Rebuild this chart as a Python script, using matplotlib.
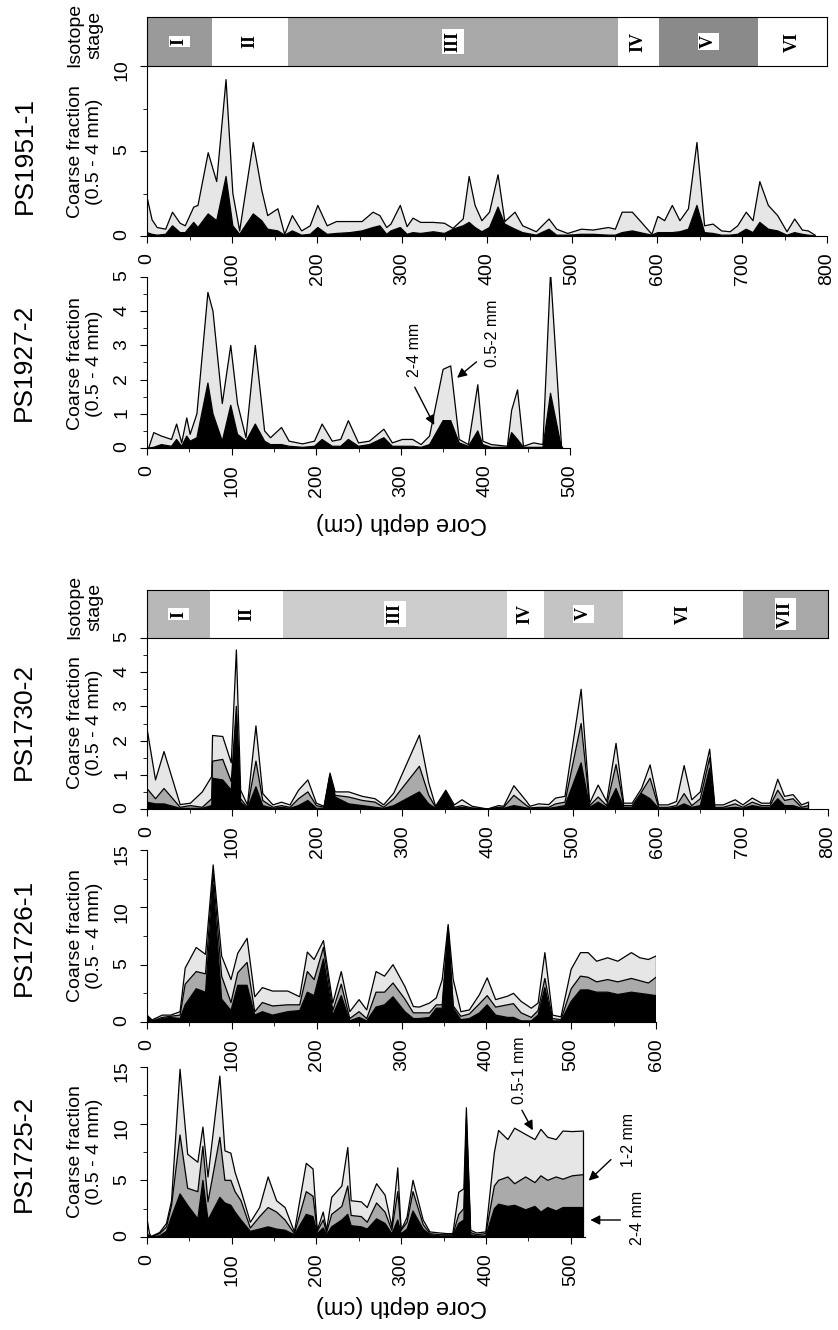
import numpy as np
import matplotlib
matplotlib.use('Agg')
import matplotlib.pyplot as plt
from matplotlib.ticker import MultipleLocator

plt.rcParams['font.family'] = ['Liberation Sans', 'DejaVu Sans']

# ---- PS1951-1 (two fractions: 2-4 mm, total 0.5-4 mm) ----
ps1951_depth = [0, 6, 12, 22, 30, 39, 45, 55, 60, 72, 82, 93, 101, 109, 125, 135, 142, 154, 162, 171,
                182, 192, 201, 212, 223, 239, 253, 266, 274, 282, 287, 298, 306, 313, 322, 337, 350, 360, 372, 379,
                386, 394, 403, 413, 421, 433, 442, 458, 473, 482, 495, 511, 525, 543, 551, 559, 571, 580, 594, 601,
                609, 618, 627, 637, 647, 656, 666, 676, 686, 695, 705, 713, 721, 731, 742, 753, 762, 771, 778, 786]
ps1951_total = [2.3, 0.95, 0.5, 0.4, 1.4, 0.75, 0.6, 1.7, 1.8, 4.9, 3.2, 9.2, 2.5, 0.3, 5.5, 2.7, 1.2, 1.6, 0.1, 1.2,
                0.3, 0.6, 1.8, 0.6, 0.85, 0.85, 0.85, 1.4, 1.2, 0.5, 0.7, 1.8, 0.55, 1.05, 0.8, 0.8, 0.75, 0.45, 1.0, 3.5,
                1.8, 0.9, 1.4, 3.6, 0.85, 1.4, 0.6, 0.25, 1.0, 0.4, 0.15, 0.4, 0.35, 0.5, 0.4, 1.4, 1.4, 0.9, 0.1, 1.15,
                0.9, 1.8, 0.9, 1.6, 5.5, 0.6, 0.7, 0.3, 0.25, 0.6, 1.4, 0.9, 3.2, 1.8, 1.2, 0.25, 1.0, 0.35, 0.3, 0.05]
ps1951_24 = [0.2, 0.1, 0.05, 0.1, 0.6, 0.2, 0.2, 0.8, 0.5, 1.3, 0.9, 3.5, 0.6, 0.1, 1.3, 0.9, 0.4, 0.3, 0.05, 0.3,
             0.05, 0.1, 0.5, 0.1, 0.15, 0.2, 0.3, 0.5, 0.6, 0.1, 0.3, 0.5, 0.1, 0.2, 0.15, 0.25, 0.15, 0.4, 0.6, 0.8,
             0.5, 0.25, 0.5, 1.7, 0.7, 0.4, 0.2, 0.05, 0.4, 0.05, 0.05, 0.1, 0.1, 0.05, 0.05, 0.2, 0.3, 0.2, 0.05, 0.2,
             0.2, 0.2, 0.25, 0.4, 1.8, 0.2, 0.15, 0.05, 0.05, 0.1, 0.4, 0.2, 0.8, 0.4, 0.3, 0.05, 0.2, 0.1, 0.05, 0.0]
ps1951_stage_bounds = [0, 76, 166, 554, 602, 719, 800]
ps1951_stage_names = ['I', 'II', 'III', 'IV', 'V', 'VI']

# ---- PS1927-2 ----
ps1927_depth = [2, 8, 17, 29, 35, 41, 47, 51, 59, 72, 78, 89, 99, 107, 117, 128, 139, 146, 159, 168,
                184, 198, 207, 219, 229, 238, 250, 263, 280, 290, 302, 314, 324, 334, 350, 359, 369, 380, 391, 397,
                407, 426, 431, 438, 445, 457, 468, 477, 490]
ps1927_total = [0.0, 0.45, 0.35, 0.25, 0.7, 0.15, 0.88, 0.4, 1.0, 4.55, 4.0, 1.3, 3.0, 1.3, 0.3, 3.0, 0.5, 0.3, 0.6, 0.2,
                0.12, 0.2, 0.7, 0.2, 0.25, 0.8, 0.15, 0.2, 0.55, 0.15, 0.25, 0.25, 0.1, 0.35, 2.3, 2.4, 0.25, 0.1, 1.85, 0.2,
                0.1, 0.05, 1.1, 1.7, 0.05, 0.15, 0.1, 5.15, 0.05]
ps1927_24 = [0.0, 0.02, 0.1, 0.05, 0.25, 0.05, 0.35, 0.2, 0.3, 1.9, 1.0, 0.2, 1.25, 0.4, 0.2, 0.7, 0.2, 0.1, 0.1, 0.05,
             0.02, 0.05, 0.25, 0.05, 0.05, 0.25, 0.05, 0.1, 0.3, 0.05, 0.05, 0.05, 0.02, 0.1, 0.8, 0.8, 0.15, 0.05, 0.5, 0.1,
             0.02, 0.02, 0.45, 0.25, 0.02, 0.02, 0.02, 1.6, 0.0]

# ---- PS1730-2 (three fractions, cumulative) ----
ps1730_depth = [0, 10, 20, 39, 51, 65, 76, 77, 89, 99, 105, 110, 118, 128, 136, 148, 158, 168, 178, 189,
                199, 208, 215, 221, 237, 253, 268, 278, 290, 320, 331, 339, 351, 361, 370, 382, 400, 413, 419, 431,
                446, 450, 460, 472, 480, 491, 510, 520, 530, 540, 551, 560, 570, 581, 591, 601, 612, 622, 631, 640,
                650, 661, 667, 677, 691, 700, 711, 722, 732, 741, 749, 759, 769, 777]
ps1730_total = [2.36, 0.85, 1.68, 0.13, 0.17, 0.5, 0.95, 2.15, 2.12, 1.35, 4.65, 0.55, 0.12, 2.43, 0.45, 0.12, 0.2, 0.12, 0.55, 0.85,
                0.17, 0.08, 1.05, 0.5, 0.5, 0.37, 0.3, 0.12, 0.47, 2.16, 0.76, 0.08, 0.55, 0.12, 0.27, 0.08, 0.0, 0.1, 0.08, 0.68,
                0.22, 0.08, 0.15, 0.13, 0.32, 0.37, 3.5, 0.17, 0.7, 0.22, 1.92, 0.17, 0.17, 0.6, 1.29, 0.12, 0.12, 0.22, 1.27, 0.27,
                0.5, 1.75, 0.12, 0.12, 0.27, 0.12, 0.32, 0.17, 0.17, 0.87, 0.37, 0.42, 0.12, 0.2]
ps1730_14 = [0.6, 0.3, 0.6, 0.05, 0.1, 0.05, 0.3, 1.4, 1.45, 0.8, 3.0, 0.3, 0.05, 1.4, 0.25, 0.05, 0.1, 0.05, 0.3, 0.5,
             0.1, 0.05, 1.0, 0.4, 0.35, 0.25, 0.2, 0.05, 0.3, 1.25, 0.4, 0.05, 0.5, 0.05, 0.1, 0.03, 0.0, 0.05, 0.05, 0.4,
             0.1, 0.03, 0.05, 0.05, 0.15, 0.2, 2.5, 0.1, 0.35, 0.1, 1.3, 0.1, 0.1, 0.5, 0.9, 0.05, 0.05, 0.1, 0.45, 0.1,
             0.3, 1.5, 0.05, 0.05, 0.15, 0.05, 0.2, 0.1, 0.1, 0.55, 0.25, 0.3, 0.05, 0.1]
ps1730_24 = [0.2, 0.15, 0.15, 0.02, 0.02, 0.02, 0.1, 0.9, 0.85, 0.55, 2.8, 0.2, 0.02, 0.65, 0.1, 0.02, 0.05, 0.02, 0.1, 0.25,
             0.02, 0.02, 0.95, 0.35, 0.15, 0.1, 0.05, 0.02, 0.1, 0.5, 0.15, 0.02, 0.5, 0.02, 0.05, 0.02, 0.0, 0.02, 0.02, 0.1,
             0.03, 0.02, 0.02, 0.02, 0.05, 0.1, 1.35, 0.05, 0.2, 0.05, 0.6, 0.05, 0.05, 0.45, 0.3, 0.02, 0.02, 0.05, 0.15, 0.05,
             0.1, 1.2, 0.02, 0.02, 0.05, 0.02, 0.1, 0.05, 0.05, 0.3, 0.1, 0.1, 0.02, 0.02]
ps1730_stage_bounds = [0, 74, 160, 423, 466, 559, 700, 800]
ps1730_stage_names = ['I', 'II', 'III', 'IV', 'V', 'VI', 'VII']

# ---- PS1726-1 ----
ps1726_depth = [0, 6, 18, 28, 39, 45, 58, 69, 78, 88, 99, 107, 118, 127, 136, 148, 166, 180, 189, 197,
                208, 219, 229, 239, 250, 259, 270, 280, 290, 304, 314, 321, 333, 341, 348, 355, 361, 370, 380, 392,
                401, 411, 425, 432, 441, 453, 461, 469, 478, 488, 500, 511, 520, 530, 543, 555, 571, 581, 591, 600]
ps1726_total = [0.6, 0.18, 0.6, 0.6, 0.9, 4.7, 6.5, 5.9, 13.7, 5.75, 3.7, 6.0, 7.3, 2.2, 3.0, 2.7, 2.7, 2.2, 6.1, 5.45,
                7.1, 1.65, 4.4, 0.9, 1.95, 1.05, 4.4, 4.0, 5.0, 3.1, 1.35, 1.3, 1.65, 2.1, 3.7, 8.5, 3.7, 0.9, 1.05, 2.4,
                3.85, 1.95, 2.25, 2.5, 1.8, 1.2, 1.65, 6.05, 0.6, 0.45, 4.6, 6.05, 6.05, 5.3, 5.6, 5.3, 6.05, 5.6, 5.45, 5.75]
ps1726_14 = [0.5, 0.1, 0.4, 0.5, 0.6, 3.3, 4.4, 4.2, 13.0, 4.0, 1.7, 4.3, 5.2, 0.9, 1.7, 1.4, 1.5, 1.5, 4.4, 3.7,
             6.5, 1.0, 3.3, 0.3, 0.9, 0.3, 2.6, 2.6, 3.4, 2.0, 0.8, 0.8, 0.8, 1.5, 1.5, 8.3, 1.4, 0.5, 0.7, 1.6,
             2.3, 1.3, 1.5, 1.6, 0.8, 0.4, 1.0, 3.8, 0.3, 0.2, 2.9, 4.0, 3.9, 3.5, 3.7, 3.5, 3.8, 3.6, 3.4, 3.9]
ps1726_24 = [0.4, 0.05, 0.3, 0.4, 0.3, 1.5, 2.9, 2.6, 12.0, 2.0, 1.0, 3.2, 3.2, 0.6, 0.9, 0.6, 0.9, 1.0, 2.6, 2.3,
             5.5, 0.6, 2.3, 0.1, 0.4, 0.1, 1.3, 1.5, 2.2, 0.9, 0.3, 0.3, 0.4, 1.2, 1.2, 8.0, 1.2, 0.2, 0.3, 0.8,
             1.5, 0.6, 0.4, 0.4, 0.1, 0.1, 0.6, 3.0, 0.1, 0.1, 1.8, 2.8, 2.8, 2.6, 2.6, 2.4, 2.6, 2.5, 2.4, 2.3]

# ---- PS1725-2 ----
ps1725_depth = [0, 3, 5, 15, 23, 29, 39, 48, 60, 66, 72, 86, 92, 99, 104, 111, 122, 133, 143, 153,
                163, 174, 188, 196, 201, 208, 212, 218, 230, 237, 241, 253, 260, 271, 281, 289, 296, 300, 307, 314,
                326, 334, 346, 354, 361, 368, 374, 377, 382, 389, 400, 410, 415, 426, 434, 447, 458, 465, 473, 483,
                491, 502, 515]
ps1725_total = [1.6, 0.3, 0.05, 0.4, 1.2, 3.2, 14.8, 7.3, 6.6, 9.7, 5.3, 14.2, 7.6, 7.4, 5.7, 4.1, 1.3, 2.6, 5.3, 3.2,
                2.6, 0.45, 6.5, 6.0, 0.6, 2.2, 0.6, 3.5, 4.5, 7.9, 3.2, 3.1, 2.6, 4.7, 3.7, 0.9, 6.1, 0.6, 1.75, 5.0,
                1.5, 0.45, 0.35, 0.3, 0.3, 3.95, 4.25, 11.4, 0.6, 0.35, 0.45, 7.45, 9.4, 8.6, 9.6, 9.05, 8.6, 9.5, 8.8, 8.6,
                9.35, 9.3, 9.35]
ps1725_14 = [0.3, 0.1, 0.03, 0.3, 0.9, 2.8, 9.0, 4.3, 4.0, 8.0, 3.1, 8.8, 5.0, 5.0, 4.0, 3.2, 0.8, 1.8, 2.6, 2.2,
             1.5, 0.3, 4.0, 3.6, 0.5, 1.5, 0.4, 2.0, 2.7, 4.5, 1.9, 1.8, 1.3, 3.0, 2.2, 0.6, 4.0, 0.6, 1.3, 4.0,
             1.1, 0.3, 0.2, 0.2, 0.2, 2.0, 2.5, 10.5, 0.4, 0.2, 0.3, 4.5, 5.0, 5.3, 4.7, 5.3, 4.8, 5.4, 5.0, 5.3,
             5.1, 5.4, 5.5]
ps1725_24 = [0.2, 0.05, 0.02, 0.1, 0.5, 1.8, 3.8, 2.8, 1.6, 5.0, 1.5, 3.5, 3.0, 2.8, 2.2, 1.5, 0.5, 0.7, 0.9, 0.7,
             0.6, 0.2, 2.0, 1.8, 0.3, 0.8, 0.2, 0.9, 1.5, 2.0, 1.0, 0.9, 0.7, 1.6, 1.2, 0.3, 1.5, 0.3, 0.7, 2.3,
             0.7, 0.2, 0.1, 0.1, 0.1, 1.2, 1.5, 9.5, 0.2, 0.1, 0.1, 2.5, 2.9, 2.7, 2.8, 2.4, 2.7, 2.2, 2.6, 2.3,
             2.6, 2.6, 2.6]

W, H = 838, 1330
fig = plt.figure(figsize=(W/100, H/100), dpi=100)
COARSE = 'Coarse fraction\n(0.5 - 4 mm)'
LIGHT, MID = '#e6e6e6', '#aaaaaa'


def box(x0, y0, x1, y1):
    # pixel box (left, top, right, bottom) -> figure fraction rect
    return [x0/W, 1-y1/H, (x1-x0)/W, (y1-y0)/H]


def ftext(x, y, s, **kw):
    fig.text(x/W, 1-y/H, s, ha='center', va='center', **kw)


def panel(rect, depth, layers, colours, xmax, ymax, ymaj, ymin):
    ax = fig.add_axes(rect)
    ax.patch.set_visible(False)  # tick labels of the panel above show through
    base = np.zeros(len(depth))
    for vals, c in zip(layers, colours):
        ax.fill_between(depth, base, vals, facecolor=c, lw=0)
        base = np.asarray(vals)
    for vals in layers:
        ax.plot(depth, vals, color='k', lw=0.9)
    ax.vlines(depth[-1], 0, layers[-1][-1], color='k', lw=0.9)
    ax.set_xlim(0, xmax); ax.set_ylim(0, ymax)
    for s in ('top', 'right'):
        ax.spines[s].set_visible(False)
    ax.xaxis.set_major_locator(MultipleLocator(100)); ax.xaxis.set_minor_locator(MultipleLocator(50))
    ax.yaxis.set_major_locator(MultipleLocator(ymaj)); ax.yaxis.set_minor_locator(MultipleLocator(ymin))
    ax.tick_params(which='both', direction='out', labelsize=14, pad=7, labelrotation=90)
    ax.tick_params(which='major', length=5); ax.tick_params(which='minor', length=3)
    return ax


def stages(rect, bounds, names, colours):
    ax = fig.add_axes(rect)
    for a, b, n, c in zip(bounds[:-1], bounds[1:], names, colours):
        ax.axvspan(a, b, color=c, lw=0)
        ax.text((a+b)/2, 0.5, n, rotation=90, ha='center', va='center', family='Liberation Serif',
                weight='bold', fontsize=13, bbox=dict(fc='white', ec='none', pad=1.5))
    ax.set_xlim(bounds[0], bounds[-1]); ax.set_ylim(0, 1)
    ax.set_xticks([]); ax.set_yticks([])


# top group
stages(box(147, 17, 827, 66), ps1951_stage_bounds, ps1951_stage_names,
       ['#9a9a9a', 'white', '#a8a8a8', 'white', '#8a8a8a', 'white'])
panel(box(147, 66, 827, 236), ps1951_depth, [ps1951_24, ps1951_total], ['k', LIGHT], 800, 10, 5, 2.5)
ax = panel(box(147, 277, 570, 448), ps1927_depth, [ps1927_24, ps1927_total], ['k', LIGHT], 500, 5, 1, 0.5)
arr = dict(arrowstyle='-|>', color='k', lw=1, mutation_scale=14)
ax.annotate('', xy=(341, 0.6), xytext=(315, 1.85), arrowprops=arr)
ax.text(316, 2.87, '2-4 mm', rotation=90, ha='center', va='center', fontsize=11.5)
ax.annotate('', xy=(364, 2.0), xytext=(392, 2.57), arrowprops=arr)
ax.text(408, 3.36, '0.5-2 mm', rotation=90, ha='center', va='center', fontsize=11.5)

ftext(25, 155, 'PS1951-1', rotation=90, fontsize=19)
ftext(85, 152, COARSE, rotation=90, fontsize=14)
ftext(85, 35, 'Isotope\nstage', rotation=90, fontsize=14)
ftext(24, 362, 'PS1927-2', rotation=90, fontsize=19)
ftext(85, 364, COARSE, rotation=90, fontsize=14)
ftext(401, 523, 'Core depth (cm)', rotation=180, fontsize=17)

# bottom group
stages(box(147, 590, 828, 638), ps1730_stage_bounds, ps1730_stage_names,
       ['#b8b8b8', 'white', '#cccccc', 'white', '#c4c4c4', 'white', '#a8a8a8'])
panel(box(147, 638, 828, 809), ps1730_depth, [ps1730_24, ps1730_14, ps1730_total], ['k', MID, LIGHT], 800, 5, 1, 0.5)
panel(box(147, 850, 656, 1022), ps1726_depth, [ps1726_24, ps1726_14, ps1726_total], ['k', MID, LIGHT], 600, 15, 5, 2.5)
ax = panel(box(147, 1067, 585, 1237), ps1725_depth, [ps1725_24, ps1725_14, ps1725_total], ['k', MID, LIGHT], 517, 15, 5, 2.5)
ax.annotate('', xy=(457, 9.2), xytext=(441, 11.4), arrowprops=arr)
ax.text(440, 14.7, '0.5-1 mm', rotation=90, ha='center', va='center', fontsize=11.5)
ax.annotate('', xy=(519, 4.8), xytext=(550, 7.0), arrowprops=arr, annotation_clip=False)
ax.text(568, 8.6, '1-2 mm', rotation=90, ha='center', va='center', fontsize=11.5)
ax.annotate('', xy=(520, 1.5), xytext=(562, 1.5), arrowprops=arr, annotation_clip=False)
ax.text(579, 1.7, '2-4 mm', rotation=90, ha='center', va='center', fontsize=11.5)

ftext(24, 721, 'PS1730-2', rotation=90, fontsize=19)
ftext(85, 723, COARSE, rotation=90, fontsize=14)
ftext(85, 607, 'Isotope\nstage', rotation=90, fontsize=14)
ftext(24, 937, 'PS1726-1', rotation=90, fontsize=19)
ftext(85, 936, COARSE, rotation=90, fontsize=14)
ftext(24, 1153, 'PS1725-2', rotation=90, fontsize=19)
ftext(85, 1152, COARSE, rotation=90, fontsize=14)
ftext(401, 1306, 'Core depth (cm)', rotation=180, fontsize=17)

fig.savefig('out.png', dpi=100)
